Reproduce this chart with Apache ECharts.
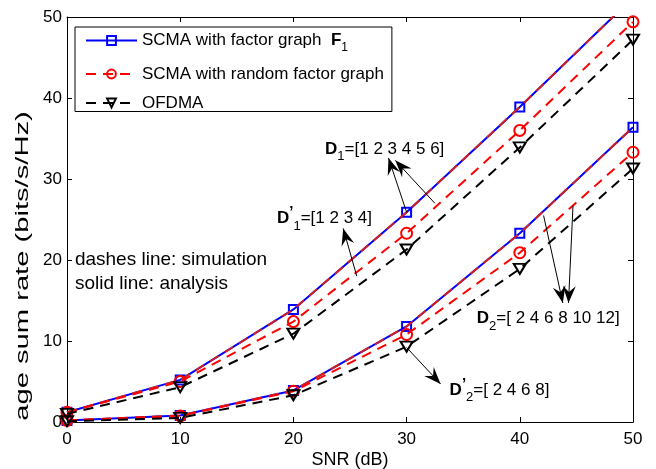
<!DOCTYPE html>
<html><head><meta charset="utf-8">
<script src="https://cdn.jsdelivr.net/npm/echarts@6/dist/echarts.min.js"></script>
<style>html,body{margin:0;padding:0;background:#fff}#c{width:656px;height:469px}</style>
</head><body><div id="c"></div>
<script>
const snr = [0, 10, 20, 30, 40, 50];
const xTicks = [0, 10, 20, 30, 40, 50];
const yTicks = [0, 10, 20, 30, 40, 50];
// D1 group (upper)
const d1Factor = [1.2, 5.2, 13.9, 25.9, 38.9, 52.4];
const d1Random = [1.2, 5.0, 12.4, 23.3, 36.0, 49.4];
const d1Ofdma  = [1.0, 4.3, 10.9, 21.3, 33.9, 47.2];
// D2 group (lower)
const d2Factor = [0.2, 0.8, 3.9, 11.8, 23.3, 36.4];
const d2Random = [0.2, 0.75, 3.8, 10.8, 20.9, 33.3];
const d2Ofdma  = [0.1, 0.5, 3.3, 9.3, 18.9, 31.3];

const names = ['SCMA with factor graph F1', 'SCMA with random factor graph', 'OFDMA'];
const FONT = 'Liberation Sans, Arial, sans-serif';
const pair = arr => snr.map((x, i) => [x, arr[i]]);

function blue(data) {
  return { name: names[0], type: 'line', data: pair(data), symbol: 'rect', symbolSize: 9,
    lineStyle: { color: '#0000ff', width: 2 },
    itemStyle: { color: 'rgba(0,0,0,0)', borderColor: '#0000ff', borderWidth: 2 }, z: 2 };
}
function overlay(data) {
  return { name: 'overlay', type: 'line', data: pair(data), symbol: 'none',
    lineStyle: { color: '#d02020', width: 2, type: [10, 7] }, z: 3 };
}
function red(data) {
  return { name: names[1], type: 'line', data: pair(data), symbol: 'circle', symbolSize: 11,
    lineStyle: { color: '#ff0000', width: 2, type: [10, 7] },
    itemStyle: { color: 'rgba(0,0,0,0)', borderColor: '#ff0000', borderWidth: 2 }, z: 4 };
}
function black(data) {
  return { name: names[2], type: 'line', data: pair(data), symbol: 'triangle', symbolSize: [12, 10], symbolRotate: 180,
    lineStyle: { color: '#000000', width: 2, type: [10, 7] },
    itemStyle: { color: 'rgba(0,0,0,0)', borderColor: '#000000', borderWidth: 2 }, z: 5 };
}

const axisCommon = {
  min: 0, max: 50, interval: 10,
  axisLine: { show: true, onZero: false, lineStyle: { color: '#000', width: 1 } },
  axisTick: { show: true, inside: true, length: 5, lineStyle: { color: '#000' } },
  splitLine: { show: false }
};

const chart = echarts.init(document.getElementById('c'), null, { renderer: 'canvas' });
chart.setOption({
  animation: false,
  backgroundColor: '#fff',
  grid: { left: 67, right: 23, top: 17, bottom: 47, containLabel: false, outerBoundsMode: 'none' },
  xAxis: [
    Object.assign({}, axisCommon, { type: 'value', position: 'bottom', name: 'SNR (dB)', nameLocation: 'middle', nameGap: 29,
      nameMoveOverlap: false,
      nameTextStyle: { fontFamily: FONT, fontSize: 18, color: '#000' },
      axisLabel: { fontFamily: FONT, fontSize: 17, color: '#000', margin: 9, formatter: v => xTicks.includes(v) ? String(v) : '' } }),
    Object.assign({}, axisCommon, { type: 'value', position: 'top', axisLabel: { show: false } })
  ],
  yAxis: [
    Object.assign({}, axisCommon, { type: 'value', position: 'left',
      axisLabel: { fontFamily: FONT, fontSize: 17, color: '#000', margin: 5, formatter: v => yTicks.includes(v) ? String(v) : '' } }),
    Object.assign({}, axisCommon, { type: 'value', position: 'right', axisLabel: { show: false } })
  ],
  legend: {
    data: names, orient: 'vertical', left: 75, top: 27,
    itemWidth: 51, itemHeight: 11, itemGap: 12,
    padding: [5, 8, 0, 10],
    borderColor: '#000', borderWidth: 1, backgroundColor: '#fff',
    formatter: n => n === names[0] ? '{n|SCMA with factor graph  }{b|F}{s|1}' : '{n|' + n + '}',
    textStyle: { fontFamily: FONT, fontSize: 17, color: '#000',
      rich: {
        n: { fontFamily: FONT, fontSize: 17, color: '#000', lineHeight: 14, verticalAlign: 'middle' },
        b: { fontFamily: FONT, fontSize: 17, fontWeight: 'bold', color: '#000', lineHeight: 26, verticalAlign: 'middle' },
        s: { fontFamily: FONT, fontSize: 12, color: '#000', lineHeight: 10, verticalAlign: 'bottom' }
      } }
  },
  series: [
    blue(d1Factor), overlay(d1Factor), red(d1Random), black(d1Ofdma),
    blue(d2Factor), overlay(d2Factor), red(d2Random), black(d2Ofdma)
  ]
});

// Annotations in data coordinates
const arrows = [
  [[30.0, 25.9], [28.4, 32.6]],
  [[32.5, 27.0], [29.0, 32.3]],
  [[25.6, 18.0], [24.4, 23.9]],
  [[42.1, 25.5], [43.8, 14.7]],
  [[44.7, 26.7], [44.3, 14.7]],
  [[30.0, 9.2], [33.0, 4.7]]
];
const labels = [
  { at: [22.8, 33.7], sub: '1', prime: false, rest: '=[1 2 3 4 5 6]' },
  { at: [18.55, 25.1], sub: '1', prime: true, rest: '=[1 2 3 4]' },
  { at: [36.2, 12.75], sub: '2', prime: false, rest: '=[ 2 4 6 8 10 12]' },
  { at: [33.8, 3.96], sub: '2', prime: true, rest: '=[ 2 4 6 8]' }
];
const notes = [
  { at: [0.7, 20.0], text: 'dashes line: simulation' },
  { at: [0.7, 17.1], text: 'solid line: analysis' }
];

const toPx = p => chart.convertToPixel({ gridIndex: 0 }, p);
const g = [];
arrows.forEach(a => {
  const p0 = toPx(a[0]), p1 = toPx(a[1]);
  g.push({ type: 'line', shape: { x1: p0[0], y1: p0[1], x2: p1[0], y2: p1[1] }, style: { stroke: '#000', lineWidth: 1 }, z: 100 });
  const ang = Math.atan2(p1[1] - p0[1], p1[0] - p0[0]);
  const L = 17, W = 6.5, back = 11;
  const ux = Math.cos(ang), uy = Math.sin(ang), nx = -uy, ny = ux;
  const tip = p1;
  const bx = tip[0] - ux * L, by = tip[1] - uy * L;
  const mx = tip[0] - ux * back, my = tip[1] - uy * back;
  g.push({ type: 'polygon', shape: { points: [tip, [bx + nx * W, by + ny * W], [mx, my], [bx - nx * W, by - ny * W]] },
    style: { fill: '#000' }, z: 100 });
});
labels.forEach(l => {
  const p = toPx(l.at);
  const txt = '{d|D}' + (l.prime ? '{p|\u2019}' : '') + '{s|' + l.sub + '}{t|' + l.rest + '}';
  g.push({ type: 'text', x: p[0], y: p[1], z: 101,
    style: { text: txt, align: 'left', verticalAlign: 'middle', fontFamily: FONT,
      rich: {
        d: { fontFamily: FONT, fontSize: 17, fontWeight: 'bold', fill: '#000', lineHeight: 28, verticalAlign: 'middle' },
        p: { fontFamily: FONT, fontSize: 15, fontWeight: 'bold', fill: '#000', lineHeight: 16, verticalAlign: 'top' },
        s: { fontFamily: FONT, fontSize: 13, fill: '#000', lineHeight: 10, verticalAlign: 'bottom' },
        t: { fontFamily: FONT, fontSize: 17, fill: '#000', lineHeight: 28, verticalAlign: 'middle' }
      } } });
});
notes.forEach(n => {
  const p = toPx(n.at);
  g.push({ type: 'text', x: p[0], y: p[1], z: 101,
    style: { text: n.text, align: 'left', verticalAlign: 'middle', fontFamily: FONT, fontSize: 19, fill: '#000' } });
});
g.push({ type: 'text', x: 23, y: 266, rotation: Math.PI / 2, scaleX: 1.62, scaleY: 1, z: 101,
  style: { text: 'age sum rate (bits/s/Hz)', align: 'center', verticalAlign: 'middle', fontFamily: FONT, fontSize: 18, fill: '#000' } });
chart.setOption({ graphic: g });
</script>
</body></html>
